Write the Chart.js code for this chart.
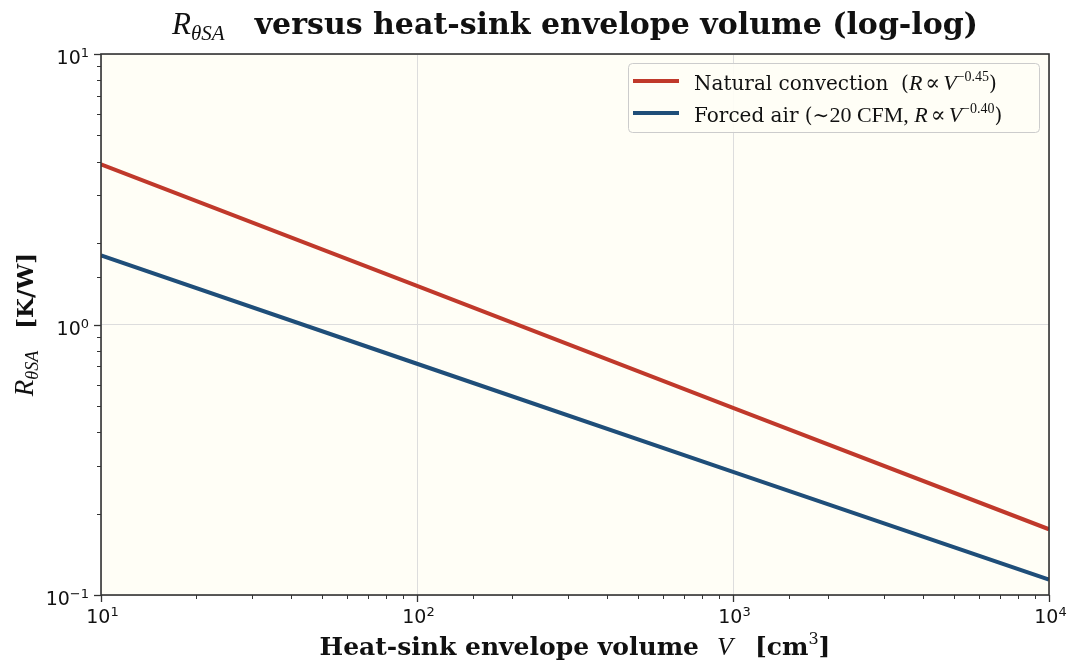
<!DOCTYPE html>
<html>
<head>
<meta charset="utf-8">
<script src="https://cdn.jsdelivr.net/npm/chart.js@4"></script>
<style>
  html, body { margin: 0; padding: 0; background: #ffffff; }
  #wrap { width: 1071px; height: 662px; position: relative; }
</style>
</head>
<body>
<div id="wrap"><canvas id="rsaChart" width="1071" height="662"></canvas></div>
<script>
// 數據
const volumes = [10, 100, 1000, 10000];          // V [cm^3]
const naturalR = [3.91, 1.39, 0.492, 0.175];     // 自然對流
const forcedR = [1.80, 0.716, 0.285, 0.114];     // 強制風冷
const xTickExp = { 10: '1', 100: '2', 1000: '3', 10000: '4' };
const yTickExp = { 0.1: '−1', 1: '0', 10: '1' };

const SANS = '"DejaVu Sans", sans-serif';
const SERIF = '"DejaVu Serif", serif';
const MATH = '"Liberation Serif", "DejaVu Serif", serif';

function isDecade(v) {
    const l = Math.log10(v);
    return Math.abs(l - Math.round(l)) < 1e-6;
}
function findExp(map, v) {
    for (const k in map) {
        if (Math.abs(Number(k) - v) / v < 1e-6) return map[k];
    }
    return null;
}

// 畫混合字體的文字 (上標/下標)
function partWidth(ctx, p) {
    if (p.gap) return p.gap;
    ctx.font = p.font;
    return ctx.measureText(p.t).width;
}
function measureParts(ctx, parts) {
    let w = 0;
    parts.forEach(p => { w += partWidth(ctx, p); });
    return w;
}
function drawParts(ctx, parts, x, y) {
    ctx.textBaseline = 'alphabetic';
    ctx.textAlign = 'left';
    ctx.fillStyle = '#111';
    parts.forEach(p => {
        if (!p.gap) {
            ctx.font = p.font;
            ctx.fillText(p.t, x, y + (p.dy || 0));
        }
        x += partWidth(ctx, p);
    });
}

const titleParts = [
    { t: 'R', font: 'italic 31px ' + MATH },
    { t: 'θSA', font: 'italic 21px ' + MATH, dy: 6 },
    { gap: 30 },
    { t: 'versus heat-sink envelope volume (log-log)', font: 'bold 30px ' + SERIF }
];
const xLabelParts = [
    { t: 'Heat-sink envelope volume', font: 'bold 25px ' + SERIF },
    { gap: 18 },
    { t: 'V', font: 'italic 26px ' + MATH },
    { gap: 22 },
    { t: '[cm', font: 'bold 25px ' + SERIF },
    { t: '3', font: '16px ' + SERIF, dy: -11 },
    { t: ']', font: 'bold 25px ' + SERIF }
];
const yLabelParts = [
    { t: 'R', font: 'italic 27px ' + MATH },
    { t: 'θSA', font: 'italic 18px ' + MATH, dy: 5 },
    { gap: 22 },
    { t: '[K/W]', font: 'bold 23px ' + SERIF }
];
const legendParts = [
    [
        { t: 'Natural convection  (', font: '20px ' + SERIF },
        { t: 'R', font: 'italic 22px ' + MATH },
        { gap: 3 },
        { t: '∝', font: '22px ' + SERIF },
        { gap: 3 },
        { t: 'V', font: 'italic 22px ' + MATH },
        { t: '−0.45', font: '14px ' + MATH, dy: -9 },
        { t: ')', font: '20px ' + SERIF }
    ],
    [
        { t: 'Forced air (', font: '20px ' + SERIF },
        { t: '∼', font: '20px ' + SERIF },
        { t: '20 CFM, ', font: '22px ' + MATH },
        { t: 'R', font: 'italic 22px ' + MATH },
        { gap: 3 },
        { t: '∝', font: '22px ' + SERIF },
        { gap: 3 },
        { t: 'V', font: 'italic 22px ' + MATH },
        { t: '−0.40', font: '14px ' + MATH, dy: -9 },
        { t: ')', font: '20px ' + SERIF }
    ]
];

// 自訂插件: 背景, 刻度, 外框, 標題, 軸標題, 圖例
const decorPlugin = {
    id: 'decor',
    beforeDraw(chart) {
        const { ctx, chartArea: a } = chart;
        ctx.save();
        ctx.fillStyle = '#fffef6';
        ctx.fillRect(a.left, a.top, a.right - a.left, a.bottom - a.top);
        ctx.restore();
    },
    afterDraw(chart) {
        const { ctx, chartArea: a } = chart;
        const xs = chart.scales.x, ys = chart.scales.y;
        const cx = (a.left + a.right) / 2;
        ctx.save();

        // 刻度線與刻度標籤
        ctx.strokeStyle = '#333';
        xs.ticks.forEach(t => {
            const px = Math.round(xs.getPixelForValue(t.value)) + 0.5;
            const major = isDecade(t.value);
            ctx.lineWidth = major ? 1.3 : 1;
            ctx.beginPath();
            ctx.moveTo(px, a.bottom);
            ctx.lineTo(px, a.bottom + (major ? 7 : 4));
            ctx.stroke();
            const e = findExp(xTickExp, t.value);
            if (e !== null) {
                const parts = [
                    { t: '10', font: '19px ' + SANS },
                    { t: e, font: '13px ' + SANS, dy: -7 }
                ];
                const w = measureParts(ctx, parts);
                drawParts(ctx, parts, px - w / 2 + 1, 623);
            }
        });
        ys.ticks.forEach(t => {
            const py = Math.round(ys.getPixelForValue(t.value)) + 0.5;
            const major = isDecade(t.value);
            ctx.lineWidth = major ? 1.3 : 1;
            ctx.beginPath();
            ctx.moveTo(a.left, py);
            ctx.lineTo(a.left - (major ? 7 : 4), py);
            ctx.stroke();
            const e = findExp(yTickExp, t.value);
            if (e !== null) {
                const parts = [
                    { t: '10', font: '19px ' + SANS },
                    { t: e, font: '13px ' + SANS, dy: -7 }
                ];
                const w = measureParts(ctx, parts);
                drawParts(ctx, parts, 89 - w, py + 9);
            }
        });

        // 外框
        ctx.strokeStyle = '#333';
        ctx.lineWidth = 1.6;
        ctx.strokeRect(a.left, a.top, a.right - a.left, a.bottom - a.top);

        // 標題
        let w = measureParts(ctx, titleParts);
        drawParts(ctx, titleParts, cx - w / 2, 34);

        // x 軸標題
        w = measureParts(ctx, xLabelParts);
        drawParts(ctx, xLabelParts, cx - w / 2, 655);

        // y 軸標題
        ctx.save();
        ctx.translate(33, (a.top + a.bottom) / 2);
        ctx.rotate(-Math.PI / 2);
        w = measureParts(ctx, yLabelParts);
        drawParts(ctx, yLabelParts, -w / 2, 0);
        ctx.restore();

        // 圖例
        const bx = 628.5, by = 63.5, bw = 411, bh = 69;
        ctx.beginPath();
        ctx.roundRect(bx, by, bw, bh, 4);
        ctx.fillStyle = 'rgba(255,254,246,0.9)';
        ctx.fill();
        ctx.strokeStyle = '#cccccc';
        ctx.lineWidth = 1;
        ctx.stroke();
        chart.data.datasets.forEach((ds, i) => {
            const ly = 81 + i * 32;
            ctx.beginPath();
            ctx.moveTo(633, ly);
            ctx.lineTo(679, ly);
            ctx.strokeStyle = ds.borderColor;
            ctx.lineWidth = 4;
            ctx.stroke();
            drawParts(ctx, legendParts[i], 694, ly + 9);
        });
        ctx.restore();
    }
};

const ctx = document.getElementById('rsaChart').getContext('2d');
const myChart = new Chart(ctx, {
    type: 'line',
    data: {
        datasets: [
            {
                label: 'Natural convection (R ∝ V^-0.45)',
                data: volumes.map((v, i) => ({ x: v, y: naturalR[i] })),
                borderColor: '#c0392b',
                borderWidth: 4,
                pointRadius: 0,
                fill: false
            },
            {
                label: 'Forced air (~20 CFM, R ∝ V^-0.40)',
                data: volumes.map((v, i) => ({ x: v, y: forcedR[i] })),
                borderColor: '#1f4e79',
                borderWidth: 4,
                pointRadius: 0,
                fill: false
            }
        ]
    },
    options: {
        responsive: false,
        animation: false,
        layout: { padding: { left: 0, top: 54, right: 22, bottom: 0 } },
        plugins: {
            legend: { display: false },
            title: { display: false },
            tooltip: { enabled: false }
        },
        scales: {
            x: {
                type: 'logarithmic',
                min: 10,
                max: 10000,
                afterFit(scale) { scale.height = 67; },
                border: { display: false },
                grid: {
                    color: c => (c.tick && isDecade(c.tick.value)) ? '#dddddd' : 'rgba(0,0,0,0)',
                    drawTicks: false
                },
                ticks: {
                    autoSkip: false,
                    maxRotation: 0,
                    callback: () => ''
                }
            },
            y: {
                type: 'logarithmic',
                min: 0.1,
                max: 10,
                afterFit(scale) { scale.width = 101; },
                border: { display: false },
                grid: {
                    color: c => (c.tick && isDecade(c.tick.value)) ? '#dddddd' : 'rgba(0,0,0,0)',
                    drawTicks: false
                },
                ticks: {
                    autoSkip: false,
                    callback: () => ''
                }
            }
        }
    },
    plugins: [decorPlugin]
});
</script>
</body>
</html>
